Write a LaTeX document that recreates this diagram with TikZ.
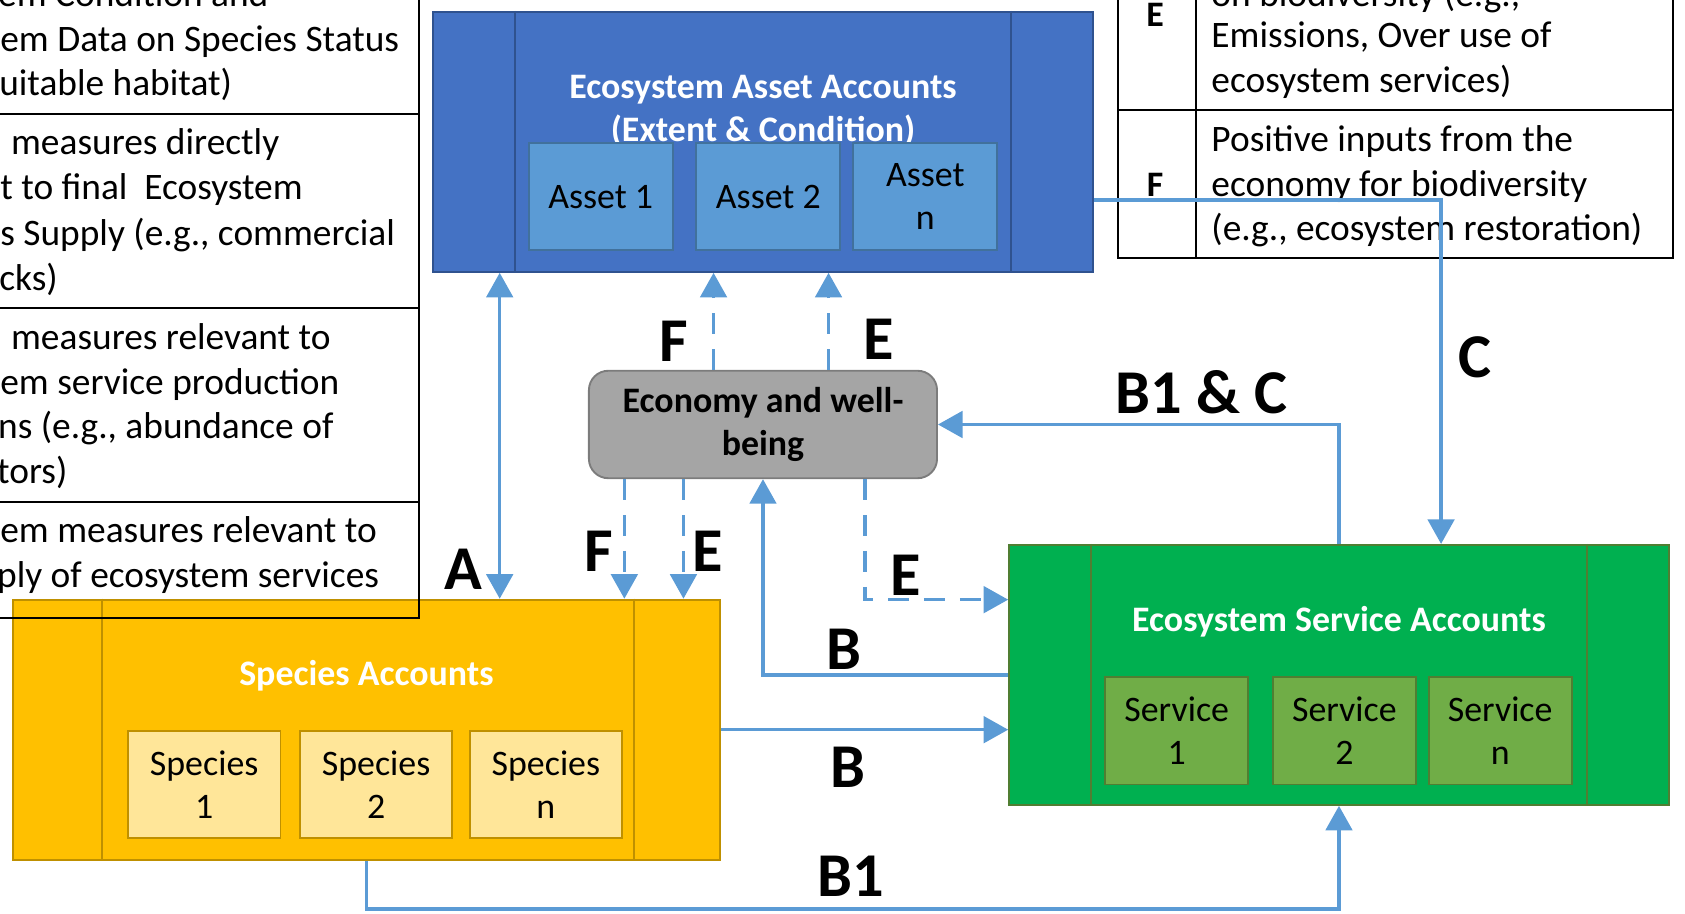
\documentclass[tikz,border=0pt]{standalone}
\usepackage{fontspec}
\setmainfont{Carlito}
\usetikzlibrary{arrows.meta}
\definecolor{assetblue}{HTML}{4472C4}
\definecolor{assetedge}{HTML}{2F528F}
\definecolor{assetlight}{HTML}{5B9BD5}
\definecolor{assetline}{HTML}{41719C}
\definecolor{specyellow}{HTML}{FFC000}
\definecolor{speclight}{HTML}{FFE699}
\definecolor{specedge}{HTML}{BF9000}
\definecolor{servgreen}{HTML}{00B050}
\definecolor{servlight}{HTML}{70AD47}
\definecolor{servedge}{HTML}{507E32}
\definecolor{econgray}{HTML}{A5A5A5}
\definecolor{econedge}{HTML}{7C7C7C}
\definecolor{flowblue}{HTML}{5B9BD5}
\newcommand{\txtsize}{\fontsize{19pt}{22.7pt}\selectfont}
\newcommand{\cellsize}{\fontsize{19.8pt}{23.8pt}\selectfont}
\newcommand{\tagsize}{\fontsize{33pt}{38pt}\selectfont\bfseries}
\tikzset{
  account/.style={line width=1pt, minimum width=12.28cm, minimum height=4.84cm, inner sep=0pt},
  item/.style={draw, line width=1pt, minimum width=2.68cm, minimum height=2cm, inner sep=0pt, align=center, font=\txtsize},
  title/.style={text=white, font=\txtsize\bfseries, align=center},
  flow/.style={draw=flowblue, line width=1.9pt},
  dflow/.style={flow, dash pattern=on 11pt off 8pt},
  tag/.style={font=\tagsize, inner sep=0pt},
  cell/.style={anchor=base west, font=\cellsize, inner sep=0pt},
}
\begin{document}
\begin{tikzpicture}[x=0.02cm, y=-0.02cm, >={Triangle[width=14pt,length=13pt]}]
	\clip (0,0) rectangle (1568,850);
	%Ecosystem asset accounts
	\node[account, draw=assetedge, fill=assetblue] (asset) at (710,132) {};
	\draw[assetedge, line width=1pt] ([xshift=1.54cm]asset.north west) -- ([xshift=1.54cm]asset.south west);
	\draw[assetedge, line width=1pt] ([xshift=-1.54cm]asset.north east) -- ([xshift=-1.54cm]asset.south east);
	\node[title] (assettitle) at (710,103) {Ecosystem Asset Accounts\\(Extent \& Condition)};
	\node[item, fill=assetlight, draw=assetline] (asset1) at (559,183) {Asset 1};
	\node[item, fill=assetlight, draw=assetline] (asset2) at (715,183) {Asset 2};
	\node[item, fill=assetlight, draw=assetline] (assetn) at (861,183) {Asset\\n};
	%Species accounts
	\node[account, minimum width=13.16cm, draw=specedge, fill=specyellow] (species) at (341,679) {};
	\draw[specedge, line width=1pt] ([xshift=1.68cm]species.north west) -- ([xshift=1.68cm]species.south west);
	\draw[specedge, line width=1pt] ([xshift=-1.62cm]species.north east) -- ([xshift=-1.62cm]species.south east);
	\node[title] (spectitle) at (341,629) {Species Accounts};
	\foreach \x/\s [count=\i] in {190/1,350/2,508/n}
		\node[item, minimum width=2.84cm, fill=speclight, draw=specedge] (species\i) at (\x,730) {Species\\\s};
	%Ecosystem service accounts
	\node[account, draw=servedge, fill=servgreen] (service) at (1246,628) {};
	\draw[servedge, line width=1pt] ([xshift=1.54cm]service.north west) -- ([xshift=1.54cm]service.south west);
	\draw[servedge, line width=1pt] ([xshift=-1.54cm]service.north east) -- ([xshift=-1.54cm]service.south east);
	\node[title] (servtitle) at (1246,579) {Ecosystem Service Accounts};
	\foreach \x/\s [count=\i] in {1095/1,1251/2,1396/n}
		\node[item, minimum width=2.66cm, fill=servlight, draw=servedge] (service\i) at (\x,680) {Service\\\s};
	%Economy
	\node[draw=econedge, fill=econgray, line width=1pt, rounded corners=0.36cm, minimum width=6.48cm, minimum height=2cm, align=center, font=\txtsize\bfseries] (econ) at (710,395) {Economy and well-\\being};
	%Left table
	\draw[line width=1.1pt] (390,-5) -- (390,575) -- (-5,575);
	\foreach \y in {106,287,467} \draw[line width=1.1pt] (-5,\y) -- (390,\y);
	\foreach \x/\y/\t [count=\i] in {-2/6/em Condition and, 0/48/em Data on Species Status, -1/89/uitable habitat),
		10/144/measures directly, 0/186/t to final\ \ Ecosystem, 0/228/{s Supply (e.g., commercial}, -1/270/cks),
		10/325/measures relevant to, 0/367/em service production, -2/408/{ns (e.g., abundance of}, -3/450/tors),
		0/505/em measures relevant to, -3/547/ply of ecosystem services}
		\node[cell] (left\i) at (\x,\y) {\t};
	%Right table
	\draw[line width=1.1pt] (1040,-5) -- (1040,240) -- (1557,240) -- (1557,-5);
	\draw[line width=1.1pt] (1113,-5) -- (1113,240);
	\draw[line width=1.1pt] (1040,102) -- (1557,102);
	\node[font=\txtsize\bfseries] (keyE) at (1075,14) {E};
	\node[font=\txtsize\bfseries] (keyF) at (1075,172) {F};
	\foreach \y/\t [count=\i] in {6/{on biodiversity (e.g.,}, 44/{Emissions, Over use of}, 86/ecosystem services),
		141/Positive inputs from the, 183/economy for biodiversity, 224/{(e.g., ecosystem restoration)}}
		\node[cell] (right\i) at (1127,\y) {\t};
	%Connectors
	\coordinate (xa) at (465,0);
	\coordinate (xfu) at (664,0);
	\coordinate (xeu) at (771,0);
	\coordinate (xfd) at (581,0);
	\coordinate (xed) at (636,0);
	\coordinate (pe) at (805,558);
	\coordinate (pc) at (1341,186);
	\draw[flow,<->] (asset.south -| xa) -- (species.north -| xa);
	\draw[dflow,->] (econ.north -| xfu) -- (asset.south -| xfu);
	\draw[dflow,->] (econ.north -| xeu) -- (asset.south -| xeu);
	\draw[dflow,->] (econ.south -| xfd) -- (species.north -| xfd);
	\draw[dflow,->] (econ.south -| xed) -- (species.north -| xed);
	\draw[dflow,->] (econ.south -| pe) |- (service.west |- pe);
	\draw[flow,->] (service.west) -| (econ.south);
	\draw[flow,->] (species.east) -- (service.west |- species.east);
	\draw[flow,->] (species.south) -- ++(0,45) -| (service.south);
	\draw[flow,->] (service.north) |- (econ.east);
	\draw[flow,->] (asset.east |- pc) -| (service.north -| pc);
	%Labels
	\node[tag] (tA) at (431,530) {A};
	\node[tag] (tF1) at (627,318) {F};
	\node[tag] (tE1) at (818,316) {E};
	\node[tag] (tF2) at (557,513) {F};
	\node[tag] (tE2) at (659,513) {E};
	\node[tag] (tE3) at (843,535) {E};
	\node[tag] (tB1) at (785,604) {B};
	\node[tag] (tB2) at (789,714) {B};
	\node[tag] (tB3) at (792,815) {B1};
	\node[tag] (tBC) at (1118,365) {B1 \& C};
	\node[tag] (tC) at (1373,332) {C};
\end{tikzpicture}
\end{document}
